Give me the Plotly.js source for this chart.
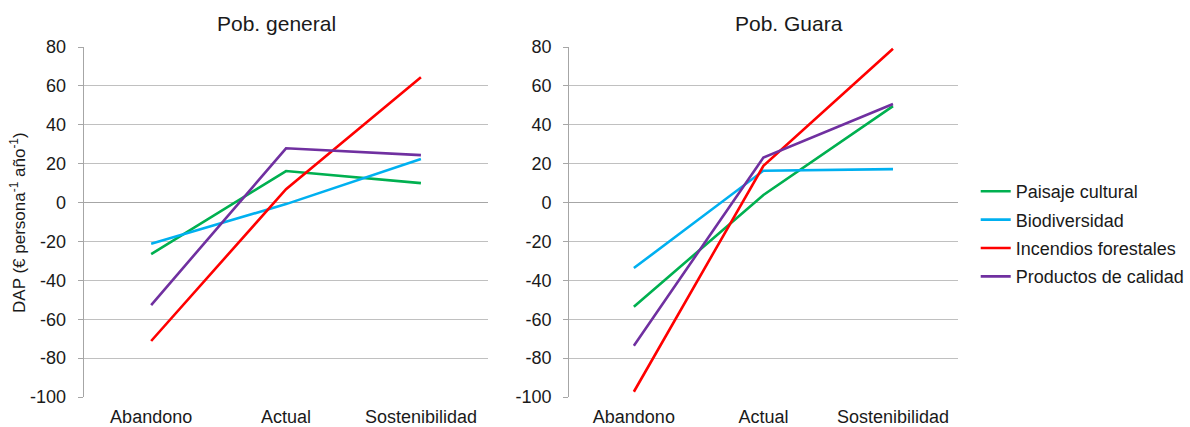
<!DOCTYPE html>
<html>
<head>
<meta charset="utf-8">
<script src="https://cdn.plot.ly/plotly-3.0.1.min.js"></script>
<style>html,body{margin:0;padding:0;background:#fff;}#chart{width:1190px;height:427px;}</style>
</head>
<body>
<div id="chart"></div>
<script>
const categories = ['Abandono', 'Actual', 'Sostenibilidad'];
const seriesNames = ['Paisaje cultural', 'Biodiversidad', 'Incendios forestales', 'Productos de calidad'];
const seriesColors = ['#00b050', '#00b0f0', '#ff0000', '#7030a0'];

// Pob. general
const generalPaisaje = [-26.5, 16.2, 10.0];
const generalBiodiversidad = [-21.2, -0.8, 22.4];
const generalIncendios = [-71.2, 6.9, 64.4];
const generalProductos = [-52.7, 27.9, 24.4];

// Pob. Guara
const guaraPaisaje = [-53.6, 3.9, 49.6];
const guaraBiodiversidad = [-33.7, 16.4, 17.2];
const guaraIncendios = [-97.3, 18.9, 79.1];
const guaraProductos = [-73.6, 23.2, 50.7];

const yTickVals = [-100, -80, -60, -40, -20, 0, 20, 40, 60, 80];
const yTickText = ['-100', '-80', '-60', '-40', '-20', '0', '20', '40', '60', '80'];
const panelTitles = ['Pob. general', 'Pob. Guara'];
const yTitle = 'DAP (€ persona<sup>-1</sup> año<sup>-1</sup>)';

const W = 1190, H = 427;
const FONT = 'Liberation Sans, Arial, sans-serif';
const TXT = '#1a1a1a';
const GRID = '#c0c0c0';
const AX = '#a6a6a6';

const generalSets = [generalPaisaje, generalBiodiversidad, generalIncendios, generalProductos];
const guaraSets = [guaraPaisaje, guaraBiodiversidad, guaraIncendios, guaraProductos];

const data = [];
generalSets.forEach((vals, i) => {
  data.push({x: categories, y: vals, type: 'scatter', mode: 'lines', name: seriesNames[i],
    legendgroup: 'g' + i, line: {color: seriesColors[i], width: 2.6}, xaxis: 'x', yaxis: 'y', hoverinfo: 'x+y+name'});
});
guaraSets.forEach((vals, i) => {
  data.push({x: categories, y: vals, type: 'scatter', mode: 'lines', name: seriesNames[i],
    legendgroup: 'g' + i, showlegend: false, line: {color: seriesColors[i], width: 2.6}, xaxis: 'x2', yaxis: 'y2', hoverinfo: 'x+y+name'});
});

const yDom = [30 / H, 380 / H];
const yMin = -100, yMax = 80;
const zeroPos = yDom[0] + (0 - yMin) / (yMax - yMin) * (yDom[1] - yDom[0]);
const xDom1 = [84 / W, 490 / W];
const xDom2 = [571 / W, 961 / W];

function catAxis(dom, anchor) {
  return {domain: dom, anchor: anchor, type: 'category', range: [-0.5, 2.5], showgrid: false,
    showline: false, zeroline: false, ticks: '', tickfont: {family: FONT, size: 18, color: TXT},
    ticklabelstandoff: 7, fixedrange: true};
}
function valAxis(anchor) {
  return {domain: yDom, anchor: anchor, range: [yMin, yMax], tickvals: yTickVals, ticktext: yTickText,
    showgrid: true, gridcolor: GRID, gridwidth: 1, showline: true, linecolor: AX, linewidth: 1,
    ticks: 'outside', ticklen: 5, tickcolor: AX, zeroline: true, zerolinecolor: AX, zerolinewidth: 1,
    tickfont: {family: FONT, size: 18, color: TXT}, ticklabelstandoff: 8, fixedrange: true};
}
function tickAxis(dom, over, dir) {
  return {domain: dom, overlaying: over, anchor: 'free', position: zeroPos, range: [-0.5, 2.5],
    tickvals: [0.5, 1.5, 2.5], ticks: dir, ticklen: 5, tickcolor: AX, showticklabels: false,
    showgrid: false, showline: false, zeroline: false, fixedrange: true};
}

const layout = {
  width: W, height: H,
  margin: {l: 0, r: 0, t: 0, b: 0},
  paper_bgcolor: '#ffffff', plot_bgcolor: '#ffffff',
  font: {family: FONT, color: TXT},
  showlegend: true,
  xaxis: catAxis(xDom1, 'y'),
  yaxis: valAxis('x'),
  xaxis2: catAxis(xDom2, 'y2'),
  yaxis2: valAxis('x2'),
  xaxis3: tickAxis(xDom1, 'x', 'outside'),
  xaxis4: tickAxis(xDom1, 'x', 'inside'),
  xaxis5: tickAxis(xDom2, 'x2', 'outside'),
  xaxis6: tickAxis(xDom2, 'x2', 'inside'),
  legend: {x: 979 / W, xanchor: 'left', y: (H - 173) / H, yanchor: 'top',
    font: {family: FONT, size: 18, color: TXT}, traceorder: 'grouped', tracegroupgap: 2,
    bgcolor: 'rgba(0,0,0,0)', borderwidth: 0, itemwidth: 30},
  annotations: [
    {text: panelTitles[0], xref: 'paper', yref: 'paper', x: 277 / W, y: (H - 24) / H,
      xanchor: 'center', yanchor: 'middle', showarrow: false, font: {family: FONT, size: 21, color: TXT}},
    {text: panelTitles[1], xref: 'paper', yref: 'paper', x: 792 / W, y: (H - 24) / H,
      xanchor: 'center', yanchor: 'middle', showarrow: false, font: {family: FONT, size: 21, color: TXT}},
    {text: yTitle, xref: 'paper', yref: 'paper', x: 18 / W, y: (H - 222) / H, textangle: -90,
      xanchor: 'center', yanchor: 'middle', showarrow: false, font: {family: FONT, size: 17, color: TXT}}
  ]
};

Plotly.newPlot('chart', data, layout, {displayModeBar: false, staticPlot: true});
</script>
</body>
</html>
